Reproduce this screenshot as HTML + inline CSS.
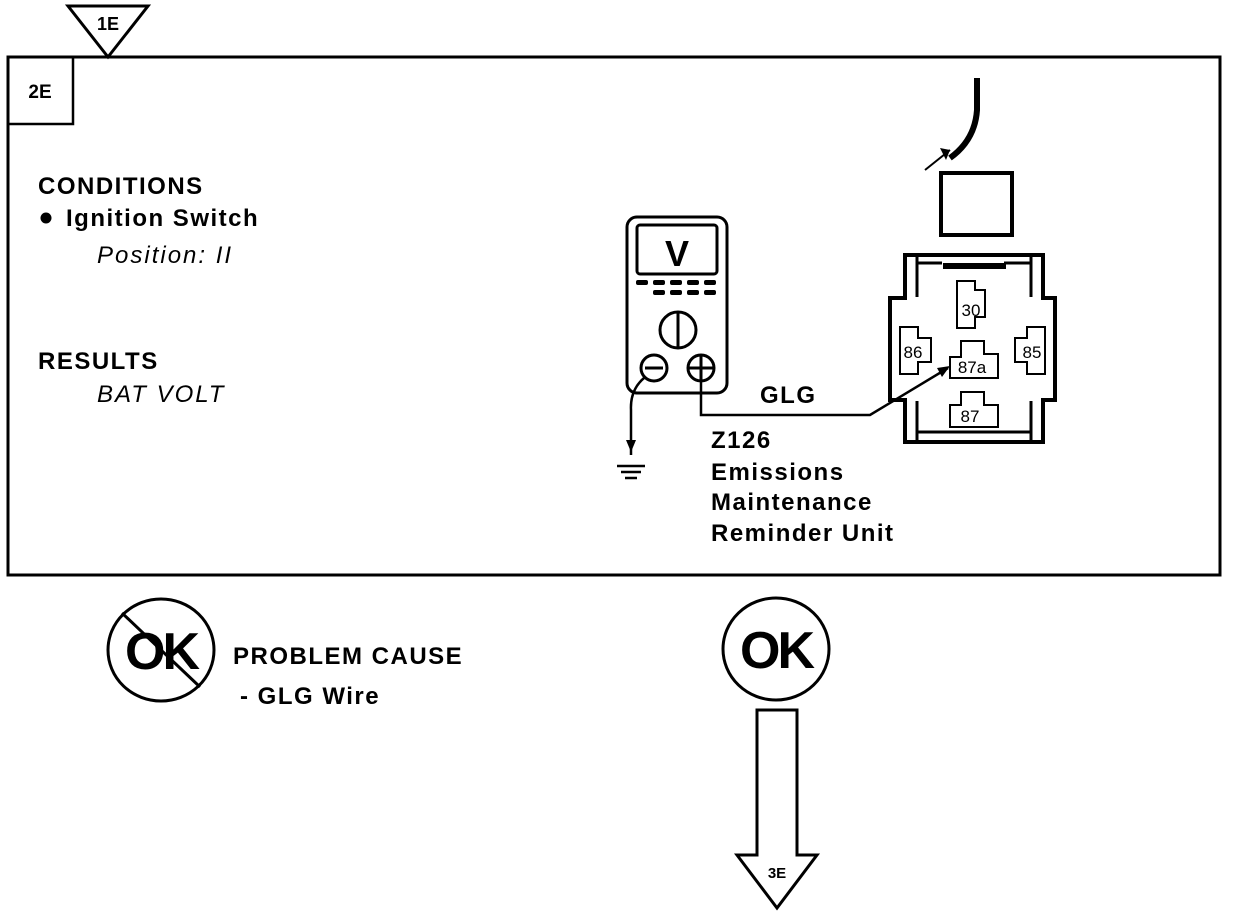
<!DOCTYPE html>
<html><head><meta charset="utf-8"><style>
html,body{margin:0;padding:0;background:#fff;}
svg{display:block;}
text{font-family:"Liberation Sans",sans-serif;fill:#000;}
.b{font-weight:bold;font-size:24px;letter-spacing:1.5px;}
.i{font-style:italic;font-size:24px;letter-spacing:2px;}
</style></head><body>
<svg width="1248" height="916" viewBox="0 0 1248 916" xmlns="http://www.w3.org/2000/svg">
<polygon points="68,6 148,6 108,57" fill="#fff" stroke="#000" stroke-width="3"/>
<text x="108" y="30" text-anchor="middle" font-weight="bold" font-size="18">1E</text>
<rect x="8" y="57" width="1212" height="518" fill="none" stroke="#000" stroke-width="3"/>
<rect x="8" y="57" width="65" height="67" fill="none" stroke="#000" stroke-width="2.5"/>
<text x="40" y="98" text-anchor="middle" font-weight="bold" font-size="19">2E</text>
<text class="b" x="38" y="194">CONDITIONS</text>
<circle cx="46" cy="218" r="5.5" fill="#000"/>
<text class="b" x="66" y="226">Ignition Switch</text>
<text class="i" x="97" y="263">Position: II</text>
<text class="b" x="38" y="369">RESULTS</text>
<text class="i" x="97" y="402">BAT VOLT</text>
<rect x="627" y="217" width="100" height="176" rx="10" fill="none" stroke="#000" stroke-width="3"/>
<rect x="637" y="225" width="80" height="49" rx="3" fill="none" stroke="#000" stroke-width="3"/>
<text x="677" y="266" text-anchor="middle" font-weight="bold" font-size="36">V</text>
<g fill="#000">
<rect x="636" y="280" width="12" height="5" rx="2"/><rect x="653" y="280" width="12" height="5" rx="2"/><rect x="670" y="280" width="12" height="5" rx="2"/><rect x="687" y="280" width="12" height="5" rx="2"/><rect x="704" y="280" width="12" height="5" rx="2"/>
<rect x="653" y="290" width="12" height="5" rx="2"/><rect x="670" y="290" width="12" height="5" rx="2"/><rect x="687" y="290" width="12" height="5" rx="2"/><rect x="704" y="290" width="12" height="5" rx="2"/>
</g>
<circle cx="678" cy="330" r="18" fill="none" stroke="#000" stroke-width="3"/>
<line x1="678" y1="313" x2="678" y2="347" stroke="#000" stroke-width="3"/>
<circle cx="654" cy="368" r="13" fill="none" stroke="#000" stroke-width="3"/>
<line x1="645" y1="368" x2="663" y2="368" stroke="#000" stroke-width="3"/>
<circle cx="701" cy="368" r="13" fill="none" stroke="#000" stroke-width="3"/>
<line x1="688" y1="368" x2="714" y2="368" stroke="#000" stroke-width="3"/>
<line x1="701" y1="355" x2="701" y2="381" stroke="#000" stroke-width="3"/>
<path d="M644,378 Q630,390 631,410 L631,455" fill="none" stroke="#000" stroke-width="2.5"/>
<polygon points="626,440 636,440 631,452" fill="#000"/>
<line x1="617" y1="466" x2="645" y2="466" stroke="#000" stroke-width="2.5"/>
<line x1="621" y1="472" x2="641" y2="472" stroke="#000" stroke-width="2.5"/>
<line x1="625" y1="478" x2="637" y2="478" stroke="#000" stroke-width="2.5"/>
<polyline points="701,381 701,415 870,415 948,368" fill="none" stroke="#000" stroke-width="2.5"/>
<polygon points="950,366 937,368 942,377" fill="#000"/>
<text class="b" x="760" y="403">GLG</text>
<text class="b" x="711" y="448">Z126</text>
<text class="b" x="711" y="480">Emissions</text>
<text class="b" x="711" y="510">Maintenance</text>
<text class="b" x="711" y="541">Reminder Unit</text>
<path d="M977,78 L977,110 Q975,140 950,158" fill="none" stroke="#000" stroke-width="6"/>
<line x1="950" y1="150" x2="925" y2="170" stroke="#000" stroke-width="2"/>
<polygon points="940,148 950,150 946,160" fill="#000"/>
<rect x="941" y="173" width="71" height="62" fill="none" stroke="#000" stroke-width="4"/>
<polygon points="905,255 1043,255 1043,298 1055,298 1055,400 1043,400 1043,442 905,442 905,400 890,400 890,298 905,298" fill="none" stroke="#000" stroke-width="4"/>
<line x1="917" y1="257" x2="917" y2="297" stroke="#000" stroke-width="3"/>
<line x1="1031" y1="257" x2="1031" y2="297" stroke="#000" stroke-width="3"/>
<line x1="917" y1="401" x2="917" y2="440" stroke="#000" stroke-width="3"/>
<line x1="1031" y1="401" x2="1031" y2="440" stroke="#000" stroke-width="3"/>
<line x1="917" y1="263" x2="942" y2="263" stroke="#000" stroke-width="3"/>
<line x1="1004" y1="263" x2="1031" y2="263" stroke="#000" stroke-width="3"/>
<line x1="917" y1="432" x2="1031" y2="432" stroke="#000" stroke-width="3"/>
<rect x="943" y="263" width="63" height="6" fill="#000"/>
<g fill="none" stroke="#000" stroke-width="2">
<polygon points="957,281 975,281 975,290 985,290 985,317 975,317 975,328 957,328"/>
<polygon points="900,327 918,327 918,338 931,338 931,362 918,362 918,374 900,374"/>
<polygon points="1027,327 1045,327 1045,374 1027,374 1027,362 1015,362 1015,338 1027,338"/>
<polygon points="961,341 984,341 984,354 998,354 998,378 950,378 950,357 961,357"/>
<polygon points="961,392 984,392 984,405 998,405 998,427 950,427 950,405 961,405"/>
</g>
<g font-size="17">
<text x="971" y="316" text-anchor="middle">30</text>
<text x="913" y="358" text-anchor="middle">86</text>
<text x="1032" y="358" text-anchor="middle">85</text>
<text x="972" y="373" text-anchor="middle">87a</text>
<text x="970" y="422" text-anchor="middle">87</text>
</g>
<ellipse cx="161" cy="650" rx="53" ry="51" fill="none" stroke="#000" stroke-width="3"/>
<text x="161" y="669" text-anchor="middle" font-weight="bold" font-size="52" letter-spacing="-3">OK</text>
<line x1="122" y1="613" x2="200" y2="687" stroke="#000" stroke-width="3"/>
<text class="b" x="233" y="664">PROBLEM CAUSE</text>
<text class="b" x="240" y="704">- GLG Wire</text>
<ellipse cx="776" cy="649" rx="53" ry="51" fill="none" stroke="#000" stroke-width="3"/>
<text x="776" y="668" text-anchor="middle" font-weight="bold" font-size="52" letter-spacing="-3">OK</text>
<polygon points="757,710 797,710 797,855 817,855 777,908 737,855 757,855" fill="#fff" stroke="#000" stroke-width="3"/>
<text x="777" y="878" text-anchor="middle" font-weight="bold" font-size="15">3E</text>
</svg>
</body></html>
